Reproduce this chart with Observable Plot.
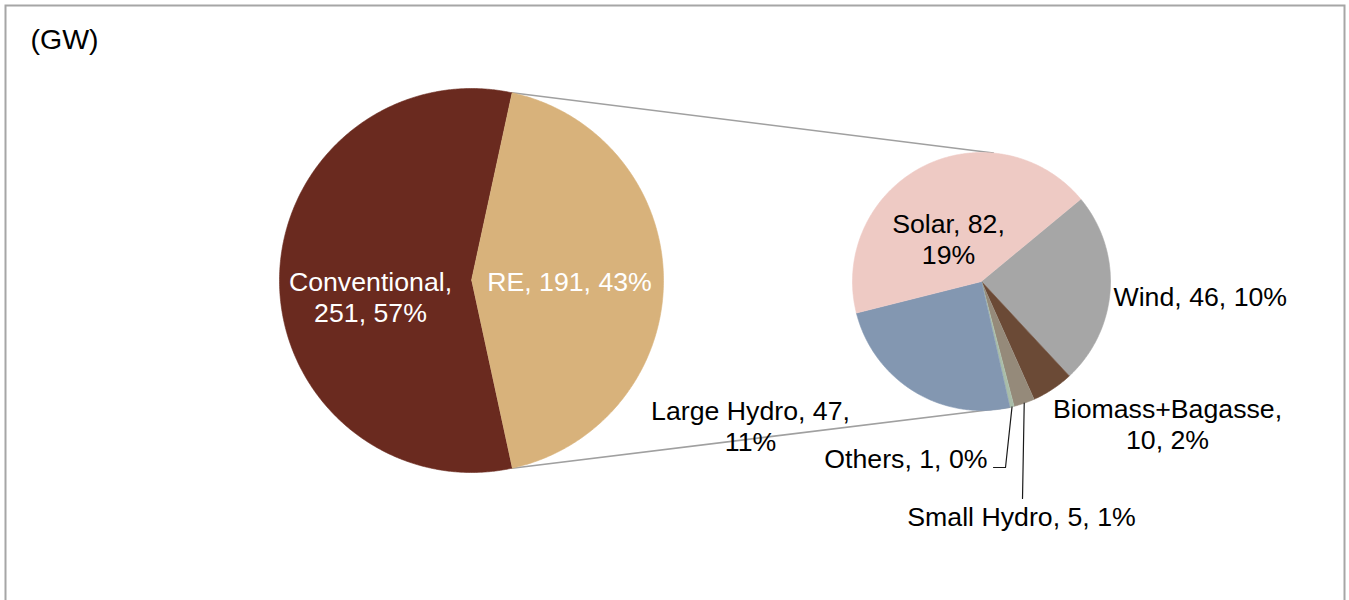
<!DOCTYPE html>
<html><head><meta charset="utf-8">
<script src="https://cdn.jsdelivr.net/npm/d3@7"></script>
<script src="https://cdn.jsdelivr.net/npm/@observablehq/plot@0.6"></script>
<style>
body{margin:0;background:#fff;}
#chart svg{display:block;}
</style>
</head><body><div id="chart"></div>
<script>
// ---------- data ----------
const unitLabel = "(GW)";
const mainCategories = ["Conventional", "RE"];
const mainValues = [251, 191];
const reCategories = ["Wind", "Biomass+Bagasse", "Small Hydro", "Others", "Large Hydro", "Solar"];
const reValues = [46, 10, 5, 1, 47, 82];

// ---------- styles ----------
const mainColors = {"Conventional": "#6a2a1f", "RE": "#d8b27b"};
const reColors = {"Wind": "#a6a6a6", "Biomass+Bagasse": "#6b4a36", "Small Hydro": "#958a7a",
                  "Others": "#a9bda9", "Large Hydro": "#8397b1", "Solar": "#eecac4"};
const FONT = "Liberation Sans, Arial, sans-serif";
const FS = 26.7;
const UNIT_FS = 28.5;

// ---------- layout ----------
const W = 1349, H = 600;
const mainPie = {cx: 471, cy: 280, r: 192};
const subPie = {cx: 981, cy: 281, r: 129, start: 50.4};
const topConnectorAngle = 5.3; // compass angle on secondary pie where top connector meets
const unitPos = {x: 30, base: 48};
// label layout: x, baselines, anchor, colour
const labelLayout = {
  "Conventional": {x: 370, base: [290, 321], anchor: "middle", fill: "white", split: true},
  "RE": {x: 569, base: [290], anchor: "middle", fill: "white", split: false},
  "Solar": {x: 948, base: [232, 263], anchor: "middle", fill: "black", split: true},
  "Wind": {x: 1113, base: [305], anchor: "start", fill: "black", split: false},
  "Biomass+Bagasse": {x: 1167, base: [417, 448], anchor: "middle", fill: "black", split: true},
  "Large Hydro": {x: 750, base: [419, 450], anchor: "middle", fill: "black", split: true},
  "Others": {x: 987, base: [467], anchor: "end", fill: "black", split: false},
  "Small Hydro": {x: 1021, base: [525], anchor: "middle", fill: "black", split: false}
};

// ---------- computations ----------
const total = d3.sum(mainValues);
const pct = v => Math.round(v / total * 100) + "%";
const rad = d => d * Math.PI / 180;
const polar = (pie, deg) => ({x: pie.cx + pie.r * Math.sin(rad(deg)), y: pie.cy - pie.r * Math.cos(rad(deg))});

function slices(cats, vals, pie, startDeg, colors) {
  const sum = d3.sum(vals);
  let a = startDeg;
  return cats.map((c, i) => {
    const span = vals[i] / sum * 360;
    const s = {key: c, value: vals[i], a0: a, a1: a + span, mid: a + span / 2, color: colors[c], pie};
    a += span;
    return s;
  });
}
const reShare = mainValues[1] / total;
const mainStart = 90 + reShare * 180; // RE wedge centred on the right
const mainSlices = slices(mainCategories, mainValues, mainPie, mainStart, mainColors);
const subSlices = slices(reCategories, reValues, subPie, subPie.start, reColors);

const poly = [];
for (const s of [...mainSlices, ...subSlices]) {
  const p = s.pie;
  poly.push({key: s.key, color: s.color, x: p.cx, y: p.cy});
  const n = Math.max(2, Math.ceil((s.a1 - s.a0) / 0.5));
  for (let k = 0; k <= n; k++) {
    const pt = polar(p, s.a0 + (s.a1 - s.a0) * k / n);
    poly.push({key: s.key, color: s.color, x: pt.x, y: pt.y});
  }
}

// connectors from main pie split edges to secondary pie
const reSlice = mainSlices[1];
const othersSlice = subSlices.find(s => s.key === "Others");
const connectors = [
  {k: "top", ...polar(mainPie, reSlice.a0)}, {k: "top", ...polar(subPie, topConnectorAngle)},
  {k: "bot", ...polar(mainPie, reSlice.a1)}, {k: "bot", ...polar(subPie, othersSlice.a1)}
];

// leader lines
const othersL = labelLayout["Others"], shL = labelLayout["Small Hydro"];
const shSlice = subSlices.find(s => s.key === "Small Hydro");
const leaders = [
  {k: "o", ...polar(subPie, othersSlice.mid)},
  {k: "o", x: othersL.x + 18, y: othersL.base[0]},
  {k: "o", x: othersL.x + 6, y: othersL.base[0]},
  {k: "s", ...polar(subPie, shSlice.mid)},
  {k: "s", x: shL.x + 1, y: shL.base[0] - 27}
];

// text lines
const texts = [];
for (const s of [...mainSlices, ...subSlices]) {
  const L = labelLayout[s.key];
  const full = `${s.key}, ${s.value}, ${pct(s.value)}`;
  const valueFirst = s.key === "Solar" || s.key === "Large Hydro";
  let lines;
  if (!L.split) lines = [full];
  else if (valueFirst) lines = [`${s.key}, ${s.value},`, pct(s.value)];
  else lines = [`${s.key},`, `${s.value}, ${pct(s.value)}`];
  lines.forEach((t, i) => texts.push({text: t, x: L.x, y: L.base[i], anchor: L.anchor, fill: L.fill}));
}

const chart = Plot.plot({
  width: W, height: H,
  margin: 0,
  x: {domain: [0, W], range: [0, W], axis: null},
  y: {domain: [0, H], range: [0, H], axis: null},
  color: {type: "identity"},
  style: {fontFamily: FONT, background: "white"},
  marks: [
    Plot.frame({stroke: "#a6a6a6", strokeWidth: 2, insetLeft: 5, insetTop: 5, insetRight: 5, insetBottom: -20}),
    Plot.line(connectors, {x: "x", y: "y", z: "k", stroke: "#a0a0a0", strokeWidth: 1.5}),
    Plot.line(poly, {x: "x", y: "y", z: "key", fill: "color", stroke: "color", strokeWidth: 0.6, curve: "linear"}),
    Plot.line(leaders, {x: "x", y: "y", z: "k", stroke: "#1a1a1a", strokeWidth: 1.2}),
    ...["start", "middle", "end"].map(a =>
      Plot.text(texts.filter(t => t.anchor === a), {x: "x", y: "y", text: "text", fill: "fill",
        textAnchor: a, lineAnchor: "bottom", fontSize: FS, fontFamily: FONT})),
    Plot.text([unitLabel], {x: () => unitPos.x, y: () => unitPos.base, text: d => d, textAnchor: "start", lineAnchor: "bottom",
      fontSize: UNIT_FS, fontFamily: FONT, fill: "black"})
  ]
});
document.getElementById("chart").append(chart);
</script>
</body></html>
